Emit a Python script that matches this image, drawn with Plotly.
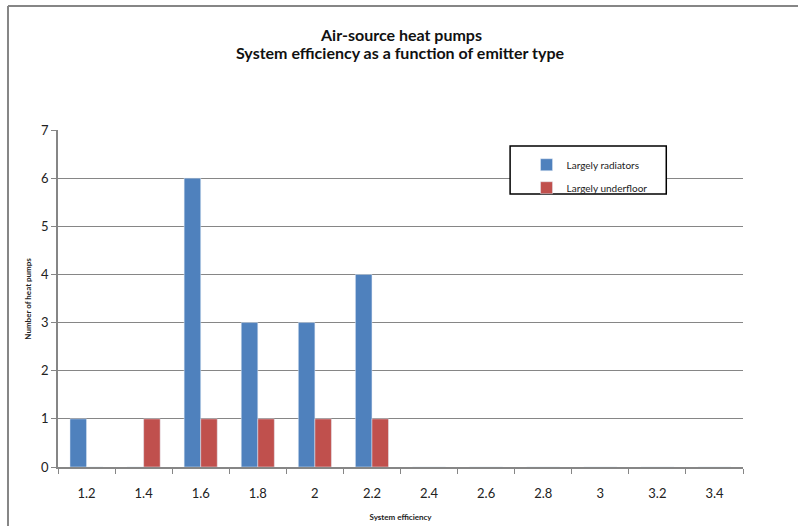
import plotly.graph_objects as go

efficiency = ["1.2", "1.4", "1.6", "1.8", "2", "2.2", "2.4", "2.6", "2.8", "3", "3.2", "3.4"]
radiators = [1, 0, 6, 3, 3, 4, 0, 0, 0, 0, 0, 0]
underfloor = [0, 1, 1, 1, 1, 1, 0, 0, 0, 0, 0, 0]
title_lines = ["Air-source heat pumps", "System efficiency as a function of emitter type"]

fig = go.Figure()
fig.add_trace(go.Bar(x=efficiency, y=radiators, name="Largely radiators",
                     marker_color="#4F81BD", legendgroup="a"))
fig.add_trace(go.Bar(x=efficiency, y=underfloor, name="Largely underfloor",
                     marker_color="#C0504D", legendgroup="b"))

fig.update_layout(
    width=798,
    height=526,
    margin=dict(l=58, r=55, t=130, b=59, autoexpand=False),
    paper_bgcolor="white",
    plot_bgcolor="white",
    font=dict(family="Lato, Open Sans, sans-serif", color="#222"),
    barmode="group",
    bargap=0.42,
    bargroupgap=0,
    legend=dict(
        x=0.684,
        y=0.94,
        xanchor="left",
        yanchor="top",
        bgcolor="rgba(0,0,0,0)",
        borderwidth=0,
        font=dict(size=10),
        itemwidth=30,
        traceorder="grouped",
        tracegroupgap=4,
    ),
    showlegend=True,
    xaxis=dict(
        type="category",
        tickson="boundaries",
        ticks="outside",
        ticklen=5,
        tickcolor="#868686",
        showline=True,
        linecolor="#868686",
        linewidth=1.5,
        showgrid=False,
        tickfont=dict(size=13),
        ticklabelstandoff=14,
        title=dict(text="<b>System efficiency</b>", font=dict(size=8), standoff=14),
    ),
    yaxis=dict(
        range=[0, 7],
        dtick=1,
        ticks="outside",
        ticklen=5,
        tickcolor="#868686",
        showline=True,
        linecolor="#868686",
        linewidth=1.5,
        gridcolor="#868686",
        gridwidth=1.2,
        zeroline=False,
        tickfont=dict(size=13),
    ),
)

# two-line chart title
for text, ypos in zip(title_lines, [1.282, 1.2285]):
    fig.add_annotation(text=f"<b>{text}</b>", xref="paper", yref="paper", x=0.5, y=ypos,
                       xanchor="center", yanchor="middle", showarrow=False,
                       font=dict(size=16, color="#111"))

fig.add_annotation(
    text="<b>Number of heat pumps</b>",
    xref="paper", yref="paper",
    x=-0.045, y=0.5,
    xanchor="center", yanchor="middle",
    textangle=-90,
    showarrow=False,
    font=dict(size=8),
)

# legend box
fig.add_shape(type="rect", xref="paper", yref="paper", x0=0.66, x1=0.888, y0=0.81, y1=0.9525,
              line=dict(color="black", width=1.5), fillcolor="white", layer="above")

# outer chart border (top and left edges visible)
fig.add_shape(type="line", xref="paper", yref="paper", x0=-0.073, x1=1.09, y0=1.368, y1=1.368,
              line=dict(color="#868686", width=2))
fig.add_shape(type="line", xref="paper", yref="paper", x0=-0.073, x1=-0.073, y0=-0.2, y1=1.368,
              line=dict(color="#868686", width=2))

fig.write_html("out.html", config={"displayModeBar": False},
               post_script="document.body.style.margin='0';")
